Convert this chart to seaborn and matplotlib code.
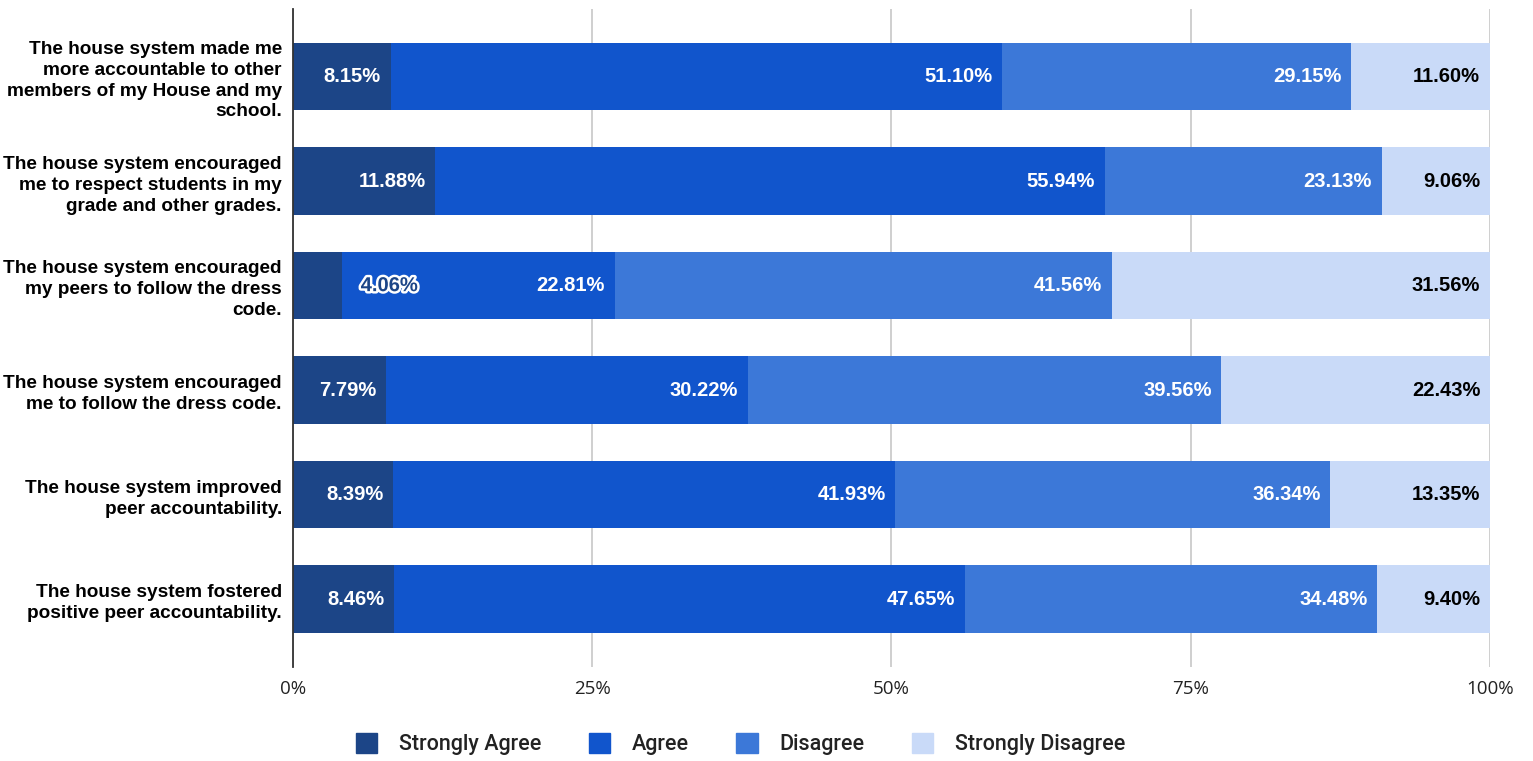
import numpy as np
import pandas as pd
import matplotlib.pyplot as plt
import matplotlib.patheffects as pe
from matplotlib.patches import Patch
import seaborn as sns

# --- DATA ---
questions = [
    "The house system made me\nmore accountable to other\nmembers of my House and my\nschool.",
    "The house system encouraged\nme to respect students in my\ngrade and other grades.",
    "The house system encouraged\nmy peers to follow the dress\ncode.",
    "The house system encouraged\nme to follow the dress code.",
    "The house system improved\npeer accountability.",
    "The house system fostered\npositive peer accountability.",
]
responses = ["Strongly Agree", "Agree", "Disagree", "Strongly Disagree"]
strongly_agree = [8.15, 11.88, 4.06, 7.79, 8.39, 8.46]
agree = [51.10, 55.94, 22.81, 30.22, 41.93, 47.65]
disagree = [29.15, 23.13, 41.56, 39.56, 36.34, 34.48]
strongly_disagree = [11.60, 9.06, 31.56, 22.43, 13.35, 9.40]
x_ticks = [0, 25, 50, 75, 100]

colors = ["#1c4587", "#1155cc", "#3c78d8", "#c9daf8"]

plt.rcParams['font.family'] = ['Liberation Sans', 'DejaVu Sans']

vals = np.array([strongly_agree, agree, disagree, strongly_disagree])
cum = np.cumsum(vals, axis=0)

fig = plt.figure(figsize=(15.33, 7.61), dpi=100)
ax = fig.add_axes([0.1911, 0.1235, 0.7808, 0.865])

# stacked look: draw cumulative totals from largest to smallest
for i in range(len(responses) - 1, -1, -1):
    df = pd.DataFrame({"question": questions, "value": cum[i]})
    sns.barplot(data=df, y="question", x="value", color=colors[i], orient="h",
                width=0.645, saturation=1, ax=ax, zorder=2)

ax.set_ylim(5.65, -0.65)
ax.set_xlim(0, 100)

# segment labels
for i in range(len(responses)):
    for j in range(len(questions)):
        v = vals[i, j]
        end = cum[i, j]
        txt = f"{v:.2f}%"
        if v < 5:
            ax.text(end + 1.6, j, txt, ha="left", va="center", fontsize=14.5,
                    fontweight="bold", color=colors[0], zorder=4,
                    path_effects=[pe.withStroke(linewidth=3.5, foreground="white")])
        else:
            c = "black" if i == 3 else "white"
            ax.annotate(txt, (end, j), xytext=(-7, 0), textcoords="offset points",
                        ha="right", va="center", fontsize=14.5, fontweight="bold",
                        color=c, zorder=4)

ax.set_xticks(x_ticks)
ax.set_xticklabels([f"{t}%" for t in x_ticks], fontsize=13.5, color="#222222",
                   family=["Open Sans", "DejaVu Sans"])
ax.tick_params(axis="x", length=0, pad=9)
ax.tick_params(axis="y", length=0, pad=8)
for lbl in ax.get_yticklabels():
    lbl.set_fontweight("bold")
    lbl.set_fontsize(13.7)
    lbl.set_multialignment("right")
    lbl.set_linespacing(1.3)
ax.grid(axis="x", color="#cccccc", linewidth=1.3, zorder=0)
ax.set_axisbelow(True)
for s in ["top", "right", "bottom"]:
    ax.spines[s].set_visible(False)
ax.spines["left"].set_color("#333333")
ax.spines["left"].set_linewidth(1.3)
ax.spines["left"].set_zorder(5)
ax.set_xlabel("")
ax.set_ylabel("")

handles = [Patch(facecolor=c, edgecolor=c) for c in colors]
fig.legend(handles, responses, loc="center", bbox_to_anchor=(0.483, 0.022), ncol=4,
           frameon=False, prop={"family": ["Roboto", "DejaVu Sans"], "weight": "medium", "size": 15.5},
           labelcolor="#222222", handlelength=1.0, handleheight=1.0,
           handletextpad=1.0, columnspacing=2.2)

fig.savefig("out.png", dpi=100)
